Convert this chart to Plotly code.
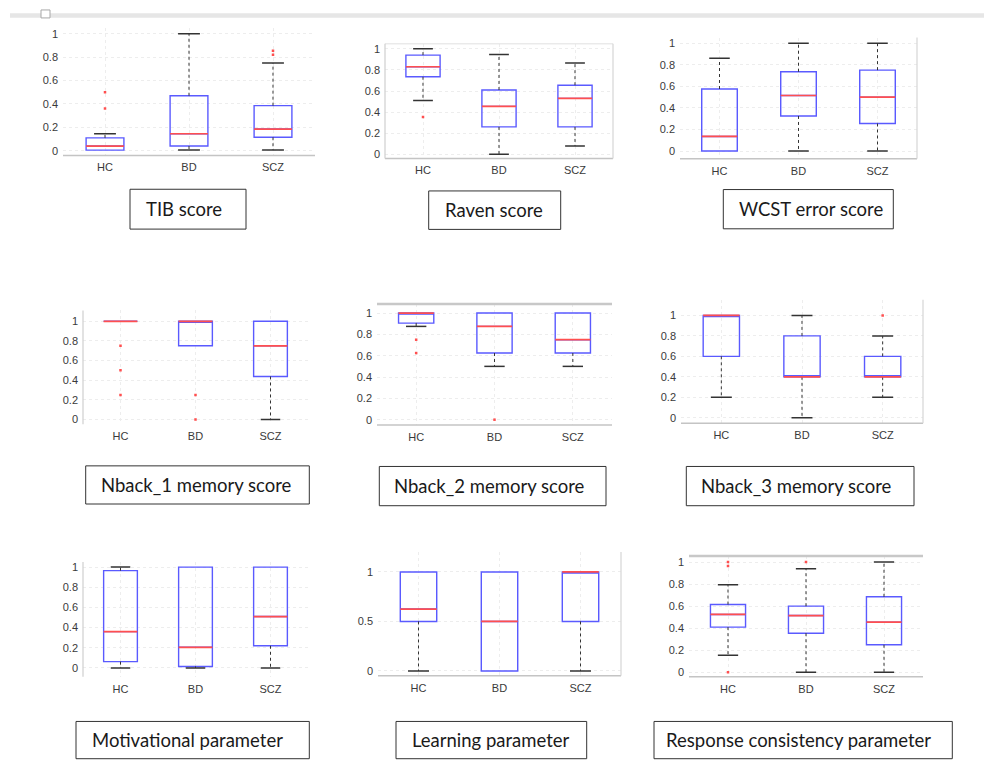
import plotly.graph_objects as go

W, H = 984, 762

# ---------------- data ----------------
categories = ["HC", "BD", "SCZ"]
caption_texts = ["TIB score", "Raven score", "WCST error score",
                 "Nback_1 memory score", "Nback_2 memory score", "Nback_3 memory score",
                 "Motivational parameter", "Learning parameter", "Response consistency parameter"]
ticks_fifths = [0, 0.2, 0.4, 0.6, 0.8, 1]
ticks_halves = [0, 0.5, 1]

tib_q1 = [0.005, 0.04, 0.115]
tib_median = [0.04, 0.145, 0.185]
tib_q3 = [0.11, 0.47, 0.385]
tib_lower = [0.005, 0.005, 0.005]
tib_upper = [0.145, 1.0, 0.75]
tib_outliers = [[0.5, 0.36], [], [0.855, 0.82]]

raven_q1 = [0.735, 0.26, 0.26]
raven_median = [0.83, 0.455, 0.53]
raven_q3 = [0.94, 0.61, 0.655]
raven_lower = [0.51, 0.0, 0.08]
raven_upper = [1.0, 0.945, 0.865]
raven_outliers = [[0.355], [], []]

wcst_q1 = [0.0, 0.325, 0.255]
wcst_median = [0.135, 0.515, 0.5]
wcst_q3 = [0.575, 0.735, 0.75]
wcst_lower = [0.0, 0.0, 0.0]
wcst_upper = [0.86, 1.0, 1.0]
wcst_outliers = [[], [], []]

nb1_q1 = [1.0, 0.75, 0.4375]
nb1_median = [1.0, 1.0, 0.75]
nb1_q3 = [1.0, 1.0, 1.0]
nb1_lower = [1.0, 0.75, 0.0]
nb1_upper = [1.0, 1.0, 1.0]
nb1_outliers = [[0.75, 0.5, 0.25], [0.25, 0.0], []]

nb2_q1 = [0.906, 0.625, 0.625]
nb2_median = [1.0, 0.875, 0.75]
nb2_q3 = [1.0, 1.0, 1.0]
nb2_lower = [0.875, 0.5, 0.5]
nb2_upper = [1.0, 1.0, 1.0]
nb2_outliers = [[0.75, 0.625], [0.0], []]

nb3_q1 = [0.6, 0.4, 0.4]
nb3_median = [1.0, 0.4, 0.4]
nb3_q3 = [1.0, 0.8, 0.6]
nb3_lower = [0.2, 0.0, 0.2]
nb3_upper = [1.0, 1.0, 0.8]
nb3_outliers = [[], [], [1.0]]

motiv_q1 = [0.0625, 0.015, 0.22]
motiv_median = [0.36, 0.205, 0.51]
motiv_q3 = [0.965, 1.0, 1.0]
motiv_lower = [0.0, 0.0, 0.0]
motiv_upper = [1.0, 1.0, 1.0]
motiv_outliers = [[], [], []]

learn_q1 = [0.5, 0.0, 0.5]
learn_median = [0.625, 0.5, 1.0]
learn_q3 = [1.0, 1.0, 1.0]
learn_lower = [0.0, 0.0, 0.0]
learn_upper = [1.0, 1.0, 1.0]
learn_outliers = [[], [], []]

resp_q1 = [0.41, 0.355, 0.25]
resp_median = [0.525, 0.515, 0.455]
resp_q3 = [0.615, 0.6, 0.685]
resp_lower = [0.155, 0.0, 0.0]
resp_upper = [0.795, 0.94, 1.0]
resp_outliers = [[1.0, 0.965, 0.0], [1.0], []]

# ---------------- assemble ----------------
panels = [
    (tib_q1, tib_median, tib_q3, tib_lower, tib_upper, tib_outliers, ticks_fifths),
    (raven_q1, raven_median, raven_q3, raven_lower, raven_upper, raven_outliers, ticks_fifths),
    (wcst_q1, wcst_median, wcst_q3, wcst_lower, wcst_upper, wcst_outliers, ticks_fifths),
    (nb1_q1, nb1_median, nb1_q3, nb1_lower, nb1_upper, nb1_outliers, ticks_fifths),
    (nb2_q1, nb2_median, nb2_q3, nb2_lower, nb2_upper, nb2_outliers, ticks_fifths),
    (nb3_q1, nb3_median, nb3_q3, nb3_lower, nb3_upper, nb3_outliers, ticks_fifths),
    (motiv_q1, motiv_median, motiv_q3, motiv_lower, motiv_upper, motiv_outliers, ticks_fifths),
    (learn_q1, learn_median, learn_q3, learn_lower, learn_upper, learn_outliers, ticks_halves),
    (resp_q1, resp_median, resp_q3, resp_lower, resp_upper, resp_outliers, ticks_fifths),
]

# layout (pixels): plot area x0, x1, ytop, ybottom
plot_px = [(63, 315, 27, 155), (385, 613, 43, 158), (680, 917, 36.7, 158.3),
           (83, 308, 310.7, 425), (377, 612, 304.3, 425.7), (681, 923, 300, 424),
           (83, 308, 563.3, 678.3), (378, 621, 553.3, 677.3), (689, 923, 557.3, 678.3)]
y_ranges = [(-0.04, 1.05), (-0.038, 1.047), (-0.071, 1.052),
            (-0.05, 1.11), (-0.05, 1.084), (-0.055, 1.153),
            (-0.086, 1.05), (-0.047, 1.2), (-0.039, 1.054)]
frames = ["b", "lrbt", "br", "l", "tb", "rb", "l", "rb", "tb"]
caption_px = [(130, 246, 189, 229), (428.7, 560.7, 190.7, 229.3), (723.3, 893.3, 189.3, 228.7),
              (85.7, 309.3, 466.7, 505), (379.3, 606, 467.3, 506.7), (686.3, 914, 467.3, 506.7),
              (76, 309.3, 723.3, 760.7), (396, 586.7, 723.3, 760.7), (654, 952.3, 723.3, 760.7)]
caption_pad = [14, 14, 14, 13, 13, 13, 14, 14, 10]

BOX_W = 0.45
CAP_HALF = 0.13
BLUE = "#5a5aff"
RED = "#ff4f4f"
WHISK = "#333333"
GRID = "#ededed"
TICKFONT = dict(family="Liberation Sans, Arial, sans-serif", size=11, color="#3a3a3a")

fig = go.Figure()
layout = dict(width=W, height=H, margin=dict(l=0, r=0, t=0, b=0),
              paper_bgcolor="white", plot_bgcolor="white", showlegend=False)
shapes = []
annotations = []

# top bar of the screenshot
shapes.append(dict(type="rect", xref="paper", yref="paper", x0=10 / W, x1=1,
                   y0=1 - 16.7 / H, y1=1 - 12.3 / H, fillcolor="#e6e6e6", line=dict(width=0)))
shapes.append(dict(type="rect", xref="paper", yref="paper", x0=41 / W, x1=50 / W,
                   y0=1 - 17 / H, y1=1 - 9 / H, fillcolor="white", line=dict(color="#a8a8a8", width=1)))

for k, (q1, med, q3, lo, hi, outl, yt) in enumerate(panels, start=1):
    xa = "x" if k == 1 else f"x{k}"
    ya = "y" if k == 1 else f"y{k}"
    pos = [i + 1 for i in range(len(categories))]

    # whiskers + caps
    wx, wy, cx, cy = [], [], [], []
    for p, a, b, l, h in zip(pos, q1, q3, lo, hi):
        if h > b:
            wx += [p, p, None]; wy += [b, h, None]
            cx += [p - CAP_HALF, p + CAP_HALF, None]; cy += [h, h, None]
        if l < a:
            wx += [p, p, None]; wy += [a, l, None]
            cx += [p - CAP_HALF, p + CAP_HALF, None]; cy += [l, l, None]
    fig.add_trace(go.Scatter(x=wx, y=wy, mode="lines", xaxis=xa, yaxis=ya,
                             line=dict(color=WHISK, width=1, dash="dot"), hoverinfo="skip"))
    fig.add_trace(go.Scatter(x=cx, y=cy, mode="lines", xaxis=xa, yaxis=ya,
                             line=dict(color=WHISK, width=1.5), hoverinfo="skip"))

    # boxes
    fig.add_trace(go.Box(x=pos, q1=q1, median=med, q3=q3, lowerfence=q1, upperfence=q3,
                         width=BOX_W, whiskerwidth=0, boxpoints=False,
                         line=dict(color=BLUE, width=1.4), fillcolor="rgba(0,0,0,0)",
                         xaxis=xa, yaxis=ya, hoverinfo="skip"))
    # medians
    mx, my = [], []
    for p, m in zip(pos, med):
        mx += [p - BOX_W / 2, p + BOX_W / 2, None]; my += [m, m, None]
    fig.add_trace(go.Scatter(x=mx, y=my, mode="lines", xaxis=xa, yaxis=ya,
                             line=dict(color=RED, width=1.7), hoverinfo="skip"))
    # outliers
    ox, oy = [], []
    for p, vals in zip(pos, outl):
        ox += [p] * len(vals); oy += list(vals)
    fig.add_trace(go.Scatter(x=ox, y=oy, mode="markers", xaxis=xa, yaxis=ya,
                             marker=dict(color=RED, size=2.5, symbol="square",
                                         line=dict(width=0)), hoverinfo="skip"))

    x0, x1, yt0, yt1 = plot_px[k - 1]
    layout["xaxis" if k == 1 else f"xaxis{k}"] = dict(
        domain=[x0 / W, x1 / W], range=[0.5, 3.5], tickvals=pos, ticktext=categories,
        showgrid=True, gridcolor=GRID, griddash="dot", zeroline=False, showline=False,
        ticks="", tickfont=TICKFONT, anchor=ya, fixedrange=True, ticklabelstandoff=4)
    layout["yaxis" if k == 1 else f"yaxis{k}"] = dict(
        domain=[1 - yt1 / H, 1 - yt0 / H], range=list(y_ranges[k - 1]), tickvals=yt,
        ticktext=[f"{v:g}" for v in yt], showgrid=True, gridcolor=GRID, griddash="dot",
        zeroline=False, showline=False, ticks="", tickfont=TICKFONT, anchor=xa,
        fixedrange=True, ticklabelstandoff=4)

    xd, yd = f"{xa} domain", f"{ya} domain"
    fr = frames[k - 1]
    heavy = fr == "tb"
    if "b" in fr:
        shapes.append(dict(type="line", xref=xd, yref=yd, x0=0, x1=1, y0=0, y1=0,
                           line=dict(color="#c4c4c4", width=1.5)))
    if "t" in fr:
        shapes.append(dict(type="line", xref=xd, yref=yd, x0=0, x1=1, y0=1, y1=1,
                           line=dict(color="#c8c8c8" if heavy else "#e0e0e0", width=2.5 if heavy else 1)))
    if "l" in fr:
        shapes.append(dict(type="line", xref=xd, yref=yd, x0=0, x1=0, y0=0, y1=1,
                           line=dict(color="#cfcfcf", width=1.2)))
    if "r" in fr:
        shapes.append(dict(type="line", xref=xd, yref=yd, x0=1, x1=1, y0=0, y1=1,
                           line=dict(color="#d6d6d6", width=1.2)))

    # caption box
    c0, c1, cy0, cy1 = caption_px[k - 1]
    shapes.append(dict(type="rect", xref="paper", yref="paper", x0=c0 / W, x1=c1 / W,
                       y0=1 - cy1 / H, y1=1 - cy0 / H, fillcolor="white",
                       line=dict(color="#333333", width=1)))
    annotations.append(dict(xref="paper", yref="paper", x=(c0 + caption_pad[k - 1]) / W,
                            y=1 - (cy0 + cy1) / 2 / H, xanchor="left", yanchor="middle",
                            text=caption_texts[k - 1], showarrow=False,
                            font=dict(family="Lato, 'Open Sans', sans-serif", size=18.5, color="#1a1a1a")))

layout["shapes"] = shapes
layout["annotations"] = annotations
fig.update_layout(**layout)
fig.write_html("out.html", config={"displayModeBar": False})
